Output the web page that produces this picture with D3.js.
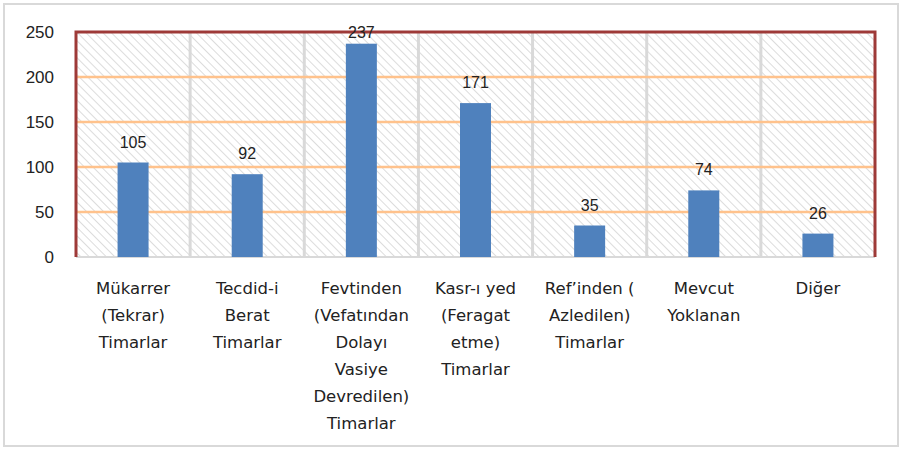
<!DOCTYPE html>
<html>
<head>
<meta charset="utf-8">
<script src="https://cdn.jsdelivr.net/npm/d3@7"></script>
<style>
  body { margin: 0; background: #fff; }
  svg { display: block; }
</style>
</head>
<body>
<div id="chart"></div>
<script>
// chart data
const categories = [
  ["Mükarrer", "(Tekrar)", "Timarlar"],
  ["Tecdid-i", "Berat", "Timarlar"],
  ["Fevtinden", "(Vefatından", "Dolayı", "Vasiye", "Devredilen)", "Timarlar"],
  ["Kasr-ı yed", "(Feragat", "etme)", "Timarlar"],
  ["Ref’inden (", "Azledilen)", "Timarlar"],
  ["Mevcut", "Yoklanan"],
  ["Diğer"]
];
const values = [105, 92, 237, 171, 35, 74, 26];
const yTicks = [0, 50, 100, 150, 200, 250];

const width = 902, height = 450;
const margin = {top: 32, right: 27, bottom: 193, left: 76};
const plotW = width - margin.left - margin.right;
const plotH = height - margin.top - margin.bottom;

let svg = d3.select("#chart")
  .append("svg")
  .attr("width", width)
  .attr("height", height);

// outer frame
svg.append("rect")
  .attr("x", 4).attr("y", 4)
  .attr("width", width - 8).attr("height", height - 8)
  .attr("fill", "#fff")
  .attr("stroke", "#d9d9d9")
  .attr("stroke-width", 2);

// hatch pattern for plot background (lines running top-left to bottom-right)
let pat = svg.append("defs").append("pattern")
  .attr("id", "hatch")
  .attr("patternUnits", "userSpaceOnUse")
  .attr("width", 6).attr("height", 6)
  .attr("patternTransform", "rotate(-45)");
pat.append("line")
  .attr("x1", 0).attr("y1", 0).attr("x2", 0).attr("y2", 6)
  .attr("stroke", "#dcdcdc")
  .attr("stroke-width", 2);

let g = svg.append("g")
  .attr("transform", `translate(${margin.left}, ${margin.top})`);

let x = d3.scaleBand()
  .domain(d3.range(categories.length))
  .range([0, plotW]);

let y = d3.scaleLinear()
  .domain([0, 250])
  .range([plotH, 0]);

g.append("rect")
  .attr("width", plotW).attr("height", plotH)
  .attr("fill", "url(#hatch)");

// vertical gray separators
g.selectAll(".vline")
  .data(d3.range(1, categories.length))
  .enter().append("line")
  .attr("x1", d => x(d)).attr("x2", d => x(d))
  .attr("y1", 0).attr("y2", plotH)
  .attr("stroke", "#d9d9d9")
  .attr("stroke-width", 3);

// horizontal orange gridlines
g.selectAll(".hline")
  .data(yTicks.filter(t => t > 0 && t < 250))
  .enter().append("line")
  .attr("x1", 0).attr("x2", plotW)
  .attr("y1", d => y(d)).attr("y2", d => y(d))
  .attr("stroke", "#ffc28c")
  .attr("stroke-width", 2.5);

// bottom axis line
g.append("line")
  .attr("x1", 0).attr("x2", plotW)
  .attr("y1", plotH).attr("y2", plotH)
  .attr("stroke", "#d9d9d9")
  .attr("stroke-width", 2);

// red border top/left/right
g.append("path")
  .attr("d", `M0,${plotH} L0,0 L${plotW},0 L${plotW},${plotH}`)
  .attr("fill", "none")
  .attr("stroke", "#9e3a38")
  .attr("stroke-width", 3);

const barW = 31;
g.selectAll(".bar")
  .data(values)
  .enter().append("rect")
  .attr("x", (d, i) => x(i) + x.bandwidth() / 2 - barW / 2)
  .attr("y", d => y(d))
  .attr("width", barW)
  .attr("height", d => plotH - y(d))
  .attr("fill", "#4f81bd");

// value labels
g.selectAll(".val")
  .data(values)
  .enter().append("text")
  .attr("x", (d, i) => x(i) + x.bandwidth() / 2)
  .attr("y", d => Math.max(y(d) - 15, 6))
  .attr("text-anchor", "middle")
  .style("font-family", "Liberation Sans, Arial, sans-serif")
  .style("font-size", "16px")
  .attr("fill", "#222")
  .text(d => d);

// y tick labels
g.selectAll(".ytick")
  .data(yTicks)
  .enter().append("text")
  .attr("x", -22)
  .attr("y", d => y(d))
  .attr("dy", "0.36em")
  .attr("text-anchor", "end")
  .style("font-family", "Liberation Sans, Arial, sans-serif")
  .style("font-size", "17px")
  .attr("fill", "#222")
  .text(d => d);

// category labels
let cat = g.selectAll(".cat")
  .data(categories)
  .enter().append("text")
  .attr("text-anchor", "middle")
  .style("font-family", "DejaVu Sans, sans-serif")
  .style("font-size", "16.5px")
  .attr("fill", "#222");

cat.selectAll("tspan")
  .data((d, i) => d.map(t => ({t: t, i: i})))
  .enter().append("tspan")
  .attr("x", d => x(d.i) + x.bandwidth() / 2)
  .attr("y", (d, j) => plotH + 37 + j * 27)
  .text(d => d.t);
</script>
</body>
</html>
